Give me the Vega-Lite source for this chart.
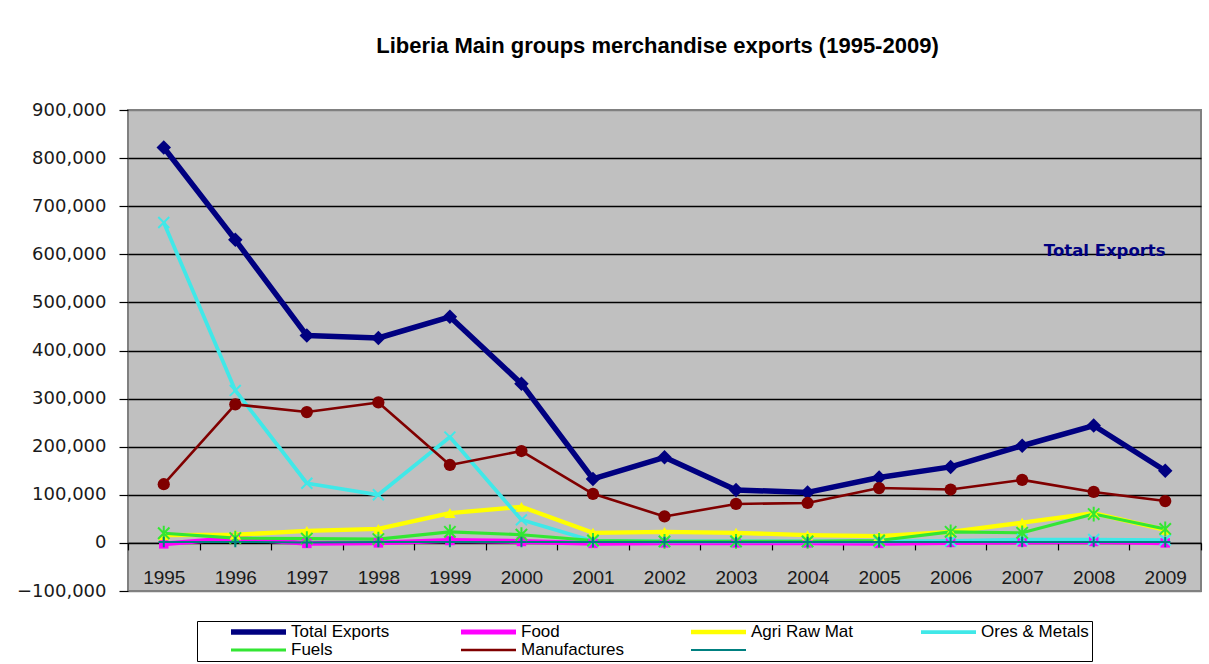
{
  "$schema": "https://vega.github.io/schema/vega-lite/v6.json",
  "width": 1073,
  "height": 481,
  "autosize": {"type": "none"},
  "padding": {"left": 128, "top": 110, "right": 8, "bottom": 73},
  "background": "white",
  "title": {
    "text": "Liberia Main groups merchandise exports (1995-2009)",
    "font": "Liberation Sans",
    "fontSize": 22,
    "fontWeight": "bold",
    "color": "black",
    "anchor": "middle",
    "baseline": "alphabetic",
    "dx": -7,
    "offset": 26
  },
  "config": {
    "view": {"fill": "#C0C0C0", "stroke": "#808080", "strokeWidth": 2}
  },
  "data": {
    "values": [
      {"year": 1995, "series": "Total Exports", "value": 822000},
      {"year": 1996, "series": "Total Exports", "value": 630000},
      {"year": 1997, "series": "Total Exports", "value": 431000},
      {"year": 1998, "series": "Total Exports", "value": 426000},
      {"year": 1999, "series": "Total Exports", "value": 470000},
      {"year": 2000, "series": "Total Exports", "value": 331000},
      {"year": 2001, "series": "Total Exports", "value": 133000},
      {"year": 2002, "series": "Total Exports", "value": 178000},
      {"year": 2003, "series": "Total Exports", "value": 110000},
      {"year": 2004, "series": "Total Exports", "value": 105000},
      {"year": 2005, "series": "Total Exports", "value": 136000},
      {"year": 2006, "series": "Total Exports", "value": 158000},
      {"year": 2007, "series": "Total Exports", "value": 202000},
      {"year": 2008, "series": "Total Exports", "value": 244000},
      {"year": 2009, "series": "Total Exports", "value": 150000},

      {"year": 1995, "series": "Food", "value": -2000},
      {"year": 1996, "series": "Food", "value": 10000},
      {"year": 1997, "series": "Food", "value": -1000},
      {"year": 1998, "series": "Food", "value": 0},
      {"year": 1999, "series": "Food", "value": 5000},
      {"year": 2000, "series": "Food", "value": 3000},
      {"year": 2001, "series": "Food", "value": -1000},
      {"year": 2002, "series": "Food", "value": 0},
      {"year": 2003, "series": "Food", "value": 0},
      {"year": 2004, "series": "Food", "value": 0},
      {"year": 2005, "series": "Food", "value": -1000},
      {"year": 2006, "series": "Food", "value": 1000},
      {"year": 2007, "series": "Food", "value": 2000},
      {"year": 2008, "series": "Food", "value": 3000},
      {"year": 2009, "series": "Food", "value": 0},

      {"year": 1995, "series": "Agri Raw Mat", "value": 16000},
      {"year": 1996, "series": "Agri Raw Mat", "value": 17000},
      {"year": 1997, "series": "Agri Raw Mat", "value": 25000},
      {"year": 1998, "series": "Agri Raw Mat", "value": 29000},
      {"year": 1999, "series": "Agri Raw Mat", "value": 62000},
      {"year": 2000, "series": "Agri Raw Mat", "value": 75000},
      {"year": 2001, "series": "Agri Raw Mat", "value": 21000},
      {"year": 2002, "series": "Agri Raw Mat", "value": 23000},
      {"year": 2003, "series": "Agri Raw Mat", "value": 21000},
      {"year": 2004, "series": "Agri Raw Mat", "value": 16000},
      {"year": 2005, "series": "Agri Raw Mat", "value": 14000},
      {"year": 2006, "series": "Agri Raw Mat", "value": 23000},
      {"year": 2007, "series": "Agri Raw Mat", "value": 42000},
      {"year": 2008, "series": "Agri Raw Mat", "value": 62000},
      {"year": 2009, "series": "Agri Raw Mat", "value": 27000},

      {"year": 1995, "series": "Ores & Metals", "value": 666000},
      {"year": 1996, "series": "Ores & Metals", "value": 317000},
      {"year": 1997, "series": "Ores & Metals", "value": 124000},
      {"year": 1998, "series": "Ores & Metals", "value": 100000},
      {"year": 1999, "series": "Ores & Metals", "value": 220000},
      {"year": 2000, "series": "Ores & Metals", "value": 48000},
      {"year": 2001, "series": "Ores & Metals", "value": 4000},
      {"year": 2002, "series": "Ores & Metals", "value": 3000},
      {"year": 2003, "series": "Ores & Metals", "value": 3000},
      {"year": 2004, "series": "Ores & Metals", "value": 3000},
      {"year": 2005, "series": "Ores & Metals", "value": 3000},
      {"year": 2006, "series": "Ores & Metals", "value": 4000},
      {"year": 2007, "series": "Ores & Metals", "value": 7000},
      {"year": 2008, "series": "Ores & Metals", "value": 7000},
      {"year": 2009, "series": "Ores & Metals", "value": 6000},

      {"year": 1995, "series": "Fuels", "value": 20000},
      {"year": 1996, "series": "Fuels", "value": 10000},
      {"year": 1997, "series": "Fuels", "value": 9000},
      {"year": 1998, "series": "Fuels", "value": 8000},
      {"year": 1999, "series": "Fuels", "value": 23000},
      {"year": 2000, "series": "Fuels", "value": 17000},
      {"year": 2001, "series": "Fuels", "value": 5000},
      {"year": 2002, "series": "Fuels", "value": 3000},
      {"year": 2003, "series": "Fuels", "value": 3000},
      {"year": 2004, "series": "Fuels", "value": 3000},
      {"year": 2005, "series": "Fuels", "value": 5000},
      {"year": 2006, "series": "Fuels", "value": 23000},
      {"year": 2007, "series": "Fuels", "value": 21000},
      {"year": 2008, "series": "Fuels", "value": 60000},
      {"year": 2009, "series": "Fuels", "value": 29000},

      {"year": 1995, "series": "Manufactures", "value": 122000},
      {"year": 1996, "series": "Manufactures", "value": 288000},
      {"year": 1997, "series": "Manufactures", "value": 272000},
      {"year": 1998, "series": "Manufactures", "value": 292000},
      {"year": 1999, "series": "Manufactures", "value": 162000},
      {"year": 2000, "series": "Manufactures", "value": 191000},
      {"year": 2001, "series": "Manufactures", "value": 102000},
      {"year": 2002, "series": "Manufactures", "value": 55000},
      {"year": 2003, "series": "Manufactures", "value": 81000},
      {"year": 2004, "series": "Manufactures", "value": 83000},
      {"year": 2005, "series": "Manufactures", "value": 114000},
      {"year": 2006, "series": "Manufactures", "value": 111000},
      {"year": 2007, "series": "Manufactures", "value": 131000},
      {"year": 2008, "series": "Manufactures", "value": 106000},
      {"year": 2009, "series": "Manufactures", "value": 87000},

      {"year": 1995, "series": "unnamed", "value": 2000},
      {"year": 1996, "series": "unnamed", "value": 2000},
      {"year": 1997, "series": "unnamed", "value": 1000},
      {"year": 1998, "series": "unnamed", "value": 2000},
      {"year": 1999, "series": "unnamed", "value": 2000},
      {"year": 2000, "series": "unnamed", "value": 2000},
      {"year": 2001, "series": "unnamed", "value": 2000},
      {"year": 2002, "series": "unnamed", "value": 2000},
      {"year": 2003, "series": "unnamed", "value": 2000},
      {"year": 2004, "series": "unnamed", "value": 2000},
      {"year": 2005, "series": "unnamed", "value": 2000},
      {"year": 2006, "series": "unnamed", "value": 2000},
      {"year": 2007, "series": "unnamed", "value": 2000},
      {"year": 2008, "series": "unnamed", "value": 2000},
      {"year": 2009, "series": "unnamed", "value": 2000}
    ]
  },
  "encoding": {
    "x": {
      "field": "year",
      "type": "ordinal",
      "scale": {"type": "band", "paddingInner": 0, "paddingOuter": 0},
      "axis": {
        "title": null,
        "offset": -48.1,
        "domain": true,
        "domainColor": "black",
        "domainWidth": 1.2,
        "ticks": true,
        "tickBand": "extent",
        "tickSize": 7,
        "tickColor": "black",
        "tickWidth": 1.2,
        "labelAngle": 0,
        "labelFont": "Liberation Sans",
        "labelFontSize": 19,
        "labelColor": "#1a1a1a",
        "labelPadding": 19,
        "grid": false
      }
    },
    "y": {
      "field": "value",
      "type": "quantitative",
      "scale": {"domain": [-100000, 900000], "nice": false, "zero": false},
      "axis": {
        "title": null,
        "values": [-100000, 0, 100000, 200000, 300000, 400000, 500000, 600000, 700000, 800000, 900000],
        "format": ",.0f",
        "domain": false,
        "grid": true,
        "gridColor": {"condition": {"test": "datum.value == 900000 || datum.value == -100000", "value": "#808080"}, "value": "black"},
        "gridWidth": 1.3,
        "gridOpacity": 1,
        "tickColor": "black",
        "tickSize": 9,
        "tickWidth": 1.2,
        "labelFont": "DejaVu Sans",
        "labelFontSize": 18,
        "labelColor": "#1a1a1a",
        "labelPadding": 13
      }
    }
  },
  "layer": [
    {
      "mark": {"type": "line", "strokeJoin": "round"},
      "encoding": {
        "color": {
          "field": "series",
          "type": "nominal",
          "scale": {
            "domain": ["Total Exports", "Food", "Agri Raw Mat", "Ores & Metals", "Fuels", "Manufactures", "unnamed"],
            "range": ["#000080", "#FF00FF", "#FFFF00", "#40E8E8", "#33E633", "#800000", "#008080"]
          },
          "legend": {
            "orient": "none",
            "legendX": 69,
            "legendY": 511,
            "direction": "horizontal",
            "columns": 4,
            "gridAlign": "all",
            "title": " ",
            "titleOrient": "left",
            "titleFontSize": 16,
            "titlePadding": 28,
            "symbolType": "stroke",
            "symbolSize": 3025,
            "symbolStrokeWidth": 3.5,
            "clipHeight": 16,
            "labelFont": "Liberation Sans",
            "labelFontSize": 17,
            "labelColor": "black",
            "labelOffset": 2,
            "labelLimit": 220,
            "labelExpr": "datum.label == 'unnamed' ? '' : datum.label",
            "columnPadding": 59,
            "rowPadding": 1,
            "padding": 3,
            "strokeColor": "black",
            "fillColor": "white"
          }
        },
        "strokeWidth": {
          "field": "series",
          "type": "nominal",
          "scale": {
            "domain": ["Total Exports", "Food", "Agri Raw Mat", "Ores & Metals", "Fuels", "Manufactures", "unnamed"],
            "range": [5.5, 2, 3, 3, 3, 2, 2]
          },
          "legend": null
        }
      }
    },
    {
      "transform": [{"filter": "datum.series == 'Total Exports'"}],
      "mark": {"type": "point", "shape": "diamond", "size": 210, "filled": true, "opacity": 1, "color": "#000080"}
    },
    {
      "transform": [{"filter": "datum.series == 'Food'"}],
      "mark": {"type": "point", "shape": "square", "size": 90, "filled": true, "opacity": 1, "color": "#FF00FF"}
    },
    {
      "transform": [{"filter": "datum.series == 'Agri Raw Mat'"}],
      "mark": {"type": "point", "shape": "triangle-up", "size": 130, "filled": true, "opacity": 1, "color": "#FFFF00"}
    },
    {
      "transform": [{"filter": "datum.series == 'Ores & Metals'"}],
      "mark": {"type": "point", "shape": "M-1,-1L1,1M-1,1L1,-1", "size": 120, "filled": false, "strokeWidth": 2, "opacity": 1, "color": "#40E8E8"}
    },
    {
      "transform": [{"filter": "datum.series == 'Fuels'"}],
      "mark": {"type": "point", "shape": "M-1,-1L1,1M-1,1L1,-1M0,-1.3L0,1.3", "size": 130, "filled": false, "strokeWidth": 2, "opacity": 1, "color": "#33E633"}
    },
    {
      "transform": [{"filter": "datum.series == 'Manufactures'"}],
      "mark": {"type": "point", "shape": "circle", "size": 150, "filled": true, "opacity": 1, "color": "#800000"}
    },
    {
      "transform": [{"filter": "datum.series == 'unnamed'"}],
      "mark": {"type": "point", "shape": "M-1,0L1,0M0,-1L0,1", "size": 110, "filled": false, "strokeWidth": 2, "opacity": 1, "color": "#008080"}
    },
    {
      "data": {"values": [{"year": 2008, "value": 606000, "label": "Total Exports"}]},
      "mark": {"type": "text", "font": "DejaVu Sans", "fontSize": 16.5, "fontWeight": "bold", "color": "#000080", "align": "center", "baseline": "middle", "dx": 11},
      "encoding": {
        "text": {"field": "label"}
      }
    }
  ]
}
